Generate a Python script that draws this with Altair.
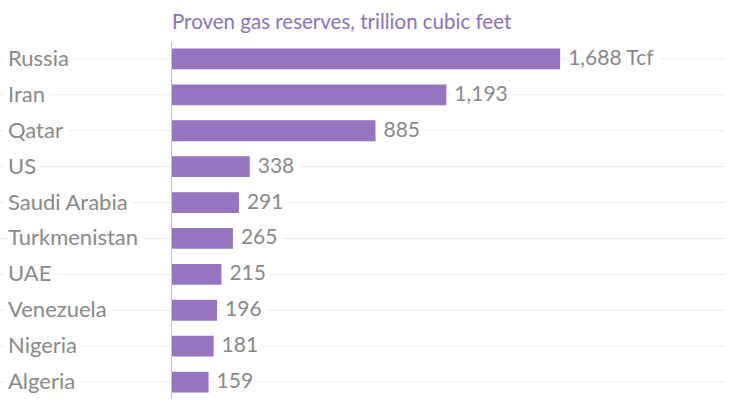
import altair as alt
import pandas as pd

countries = ["Russia", "Iran", "Qatar", "US", "Saudi Arabia", "Turkmenistan",
             "UAE", "Venezuela", "Nigeria", "Algeria"]
reserves = [1688, 1193, 885, 338, 291, 265, 215, 196, 181, 159]
unit_suffix = " Tcf"
title_text = "Proven gas reserves, trillion cubic feet"

df = pd.DataFrame({
    "country": countries,
    "value": reserves,
    "label": [f"{v:,}" + (unit_suffix if i == 0 else "") for i, v in enumerate(reserves)],
})

W, H = 553, 357
FONT = "Lato"
BAR = "#9575c0"
GRAY = "#898989"
NAME_SIZE = 22
VAL_SIZE = 21

y_enc = alt.Y("country:N", sort=countries, axis=None,
              scale=alt.Scale(paddingInner=0.42, paddingOuter=0.18))
x_scale = alt.Scale(domain=[0, 2405], nice=False, zero=True)

base = alt.Chart(df)

grid = base.mark_rule(color="#ebebeb", strokeWidth=1).encode(
    y=y_enc, x=alt.value(-172), x2=alt.value(W))

halo_names = base.mark_text(align="left", baseline="middle", font=FONT, fontSize=NAME_SIZE,
                            color="white", stroke="white", strokeWidth=12).encode(
    y=y_enc, x=alt.value(-164), text="country:N")

halo_vals = base.mark_text(align="left", baseline="middle", dx=8, font=FONT, fontSize=VAL_SIZE,
                           color="white", stroke="white", strokeWidth=12).encode(
    y=y_enc, x=alt.X("value:Q", scale=x_scale, axis=None), text="label:N")

axis_line = base.mark_rule(color="#c4c4c4", strokeWidth=1).encode(
    x=alt.value(-0.5), y=alt.value(0), y2=alt.value(H))

bars = base.mark_bar(color=BAR).encode(
    y=y_enc, x=alt.X("value:Q", scale=x_scale, axis=None))

names = base.mark_text(align="left", baseline="middle", font=FONT, fontSize=NAME_SIZE,
                       color=GRAY).encode(
    y=y_enc, x=alt.value(-164), text="country:N")

vals = base.mark_text(align="left", baseline="middle", dx=8, font=FONT, fontSize=VAL_SIZE,
                      color=GRAY).encode(
    y=y_enc, x=alt.X("value:Q", scale=x_scale, axis=None), text="label:N")

title = alt.Chart(pd.DataFrame({"t": [title_text]})).mark_text(
    align="left", baseline="alphabetic", font=FONT, fontSize=20.5, color="#8b72b9").encode(
    x=alt.value(0), y=alt.value(-13), text="t:N")

chart = alt.layer(grid, halo_names, halo_vals, axis_line, bars, names, vals, title).properties(
    width=W, height=H,
    autosize=alt.AutoSizeParams(type="none"),
    padding={"left": 172, "top": 42, "right": 6, "bottom": 11},
    background="white",
).configure_view(stroke=None)

chart.save("out.html", embed_options={"renderer": "svg", "actions": False})
